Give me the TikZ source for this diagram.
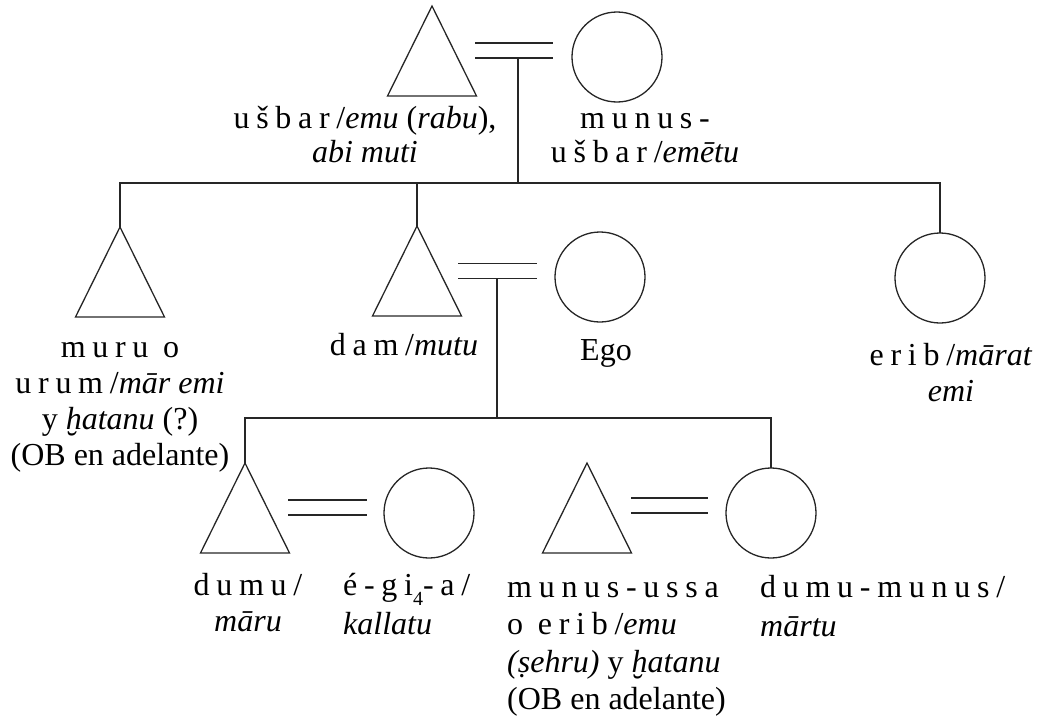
\documentclass[tikz,border=0pt]{standalone}
\usepackage{fontspec}
\setmainfont{Liberation Serif}
\newfontfamily\suxfont[LetterSpace=21]{Liberation Serif}
\newcommand{\sx}[1]{{\suxfont #1}}
\newcommand{\lowsub}[1]{\raisebox{-10pt}{\fontsize{20}{20}\selectfont #1}}
\usetikzlibrary{shapes.geometric}

\begin{document}
\begin{tikzpicture}[x=1pt, y=-1pt,
  every node/.style={font=\fontsize{32}{36}\selectfont},
  male/.style={draw=black!85, line width=1.3pt, isosceles triangle, isosceles triangle stretches,
    shape border rotate=90, minimum width=89pt, minimum height=90pt, inner sep=0pt, outer sep=0pt, anchor=apex},
  female/.style={draw=black!85, line width=1.3pt, circle, minimum size=90pt, inner sep=0pt, outer sep=0pt},
  wed/.style={draw=black!85, line width=1.3pt, double=white, double distance=13.5pt},
  kin/.style={draw=black!85, line width=1.3pt},
  lbl/.style={align=center, anchor=base, inner sep=0pt},
  lbll/.style={align=left, anchor=base west, inner sep=0pt}]
  \useasboundingbox (0,0) rectangle (1047,720);
  \node[male] (ushbar) at (432,6) {};
  \node[female] (ushbarw) at (617,57) {};
  \node[male] (muru) at (120,227) {};
  \node[male] (dam) at (417,226) {};
  \node[female] (ego) at (600,277) {};
  \node[female] (erib) at (940,278) {};
  \node[male] (dumu) at (245,463) {};
  \node[female] (egia) at (429,513) {};
  \node[male] (ussa) at (587,463) {};
  \node[female] (dumumunus) at (771,513) {};
  \coordinate (w1a) at (475,50.5);
  \coordinate (w1b) at (553,50.5);
  \coordinate (w2a) at (458,271);
  \coordinate (w2b) at (537,271);
  \coordinate (w3a) at (288,507.5);
  \coordinate (w3b) at (367,507.5);
  \coordinate (w4a) at (631,505.5);
  \coordinate (w4b) at (708,505.5);
  \coordinate (d1) at (518,58);
  \coordinate (bar1) at (518,183);
  \coordinate (d2) at (497,278);
  \coordinate (bar2) at (497,418);
  \draw[wed] (w1a) -- (w1b);
  \draw[wed] (w2a) -- (w2b);
  \draw[wed] (w3a) -- (w3b);
  \draw[wed] (w4a) -- (w4b);
  \draw[kin] (d1) -- (bar1);
  \draw[kin] (muru.apex) |- (bar1) -| (erib.north);
  \draw[kin] (dam.apex) -- (dam.apex |- bar1);
  \draw[kin] (d2) -- (bar2);
  \draw[kin] (dumu.apex) |- (bar2) -| (dumumunus.north);
  \node[lbl, font=\fontsize{32}{34}\selectfont] (ushbarL) at (365,162) {\sx{ušbar/}\textit{emu} (\textit{rabu}),\\\textit{abi muti}};
  \node[lbl, font=\fontsize{32}{34}\selectfont] (ushbarwL) at (645,162) {\sx{munus-}\\\sx{ušbar/}\textit{emētu}};
  \node[lbl] (muruL) at (120,465) {\sx{muru o}\\\sx{urum/}\textit{mār emi}\\y \textit{ḫatanu} (?)\\(OB en adelante)};
  \node[lbl] (damL) at (404,355) {\sx{dam/}\textit{mutu}};
  \node[lbl] (egoL) at (606,360) {Ego};
  \node[lbl] (eribL) at (951,401) {\sx{erib/}\textit{mārat}\\\textit{emi}};
  \node[lbl, font=\fontsize{32}{36}\selectfont] (dumuL) at (248,631) {\sx{dumu/}\\\textit{māru}};
  \node[lbll, font=\fontsize{32}{39}\selectfont] (egiaL) at (343,634) {\sx{é-gi\lowsub{4}-a/}\\\textit{kallatu}};
  \node[lbll, font=\fontsize{32}{37.5}\selectfont] (ussaL) at (507,709.5) {\sx{munus-ussa}\\\sx{o erib/}\textit{emu}\\\textit{(ṣehru)} y \textit{ḫatanu}\\(OB en adelante)};
  \node[lbll, font=\fontsize{32}{39}\selectfont] (dumumunusL) at (760,636) {\sx{dumu-munus/}\\\textit{mārtu}};
\end{tikzpicture}
\end{document}
